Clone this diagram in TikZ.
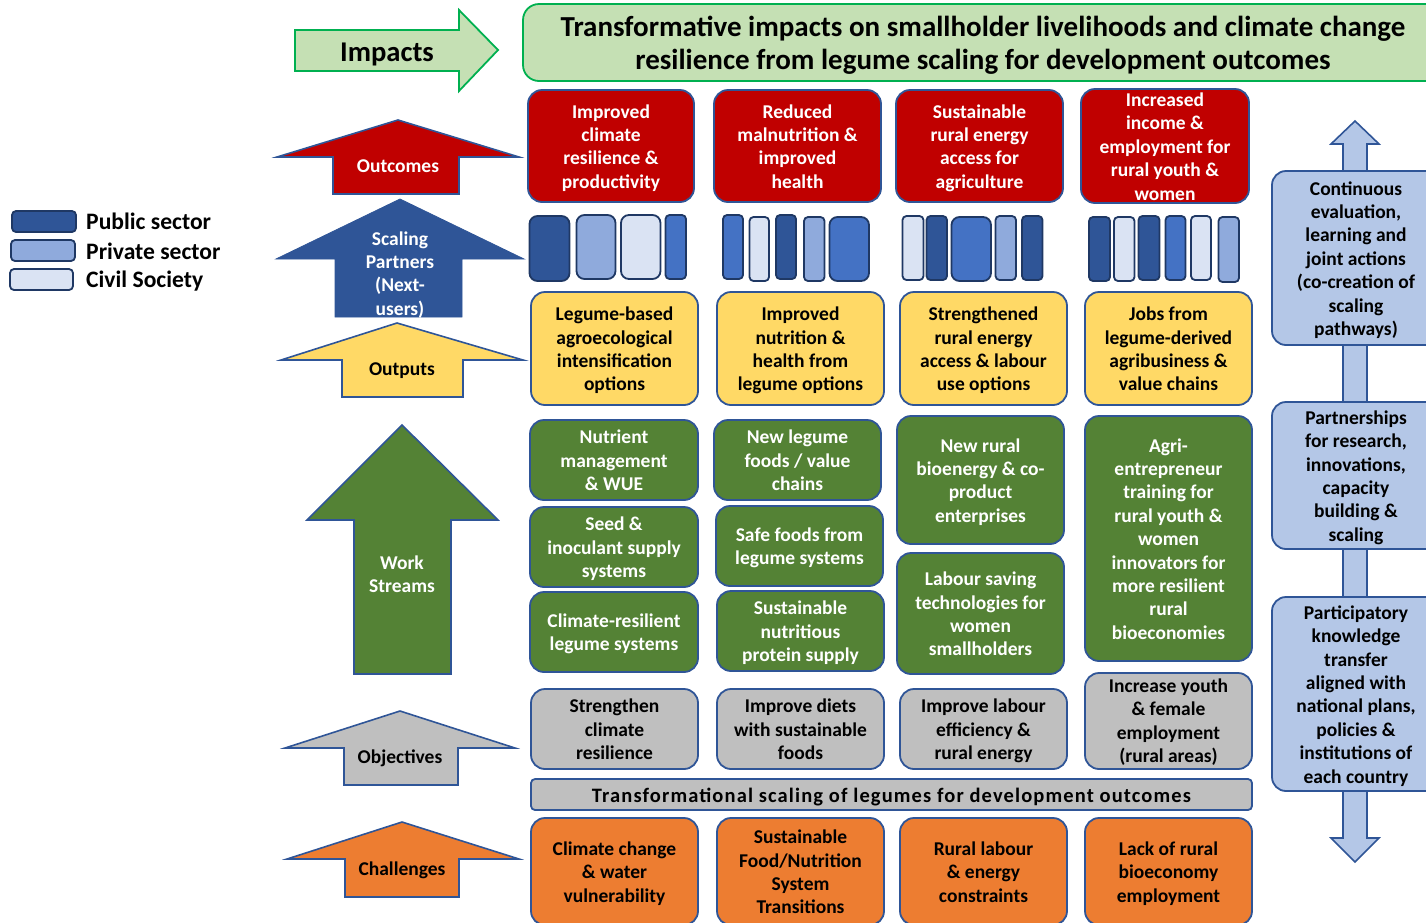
\documentclass[tikz,border=0pt]{standalone}
\usepackage{fontspec}
\setmainfont{Carlito}
\definecolor{cGreenF}{HTML}{C5E0B4}
\definecolor{cGreenS}{HTML}{00B050}
\definecolor{cRed}{HTML}{C00000}
\definecolor{cEdge}{HTML}{2F5597}
\definecolor{cDark}{HTML}{2F5597}
\definecolor{cDarkS}{HTML}{1F3864}
\definecolor{cMid}{HTML}{8FAADC}
\definecolor{cLight}{HTML}{DAE3F3}
\definecolor{cBlue}{HTML}{4472C4}
\definecolor{cYellow}{HTML}{FFD966}
\definecolor{cWork}{HTML}{548235}
\definecolor{cGray}{HTML}{BFBFBF}
\definecolor{cOrange}{HTML}{ED7D31}
\definecolor{cSide}{HTML}{B4C7E7}
\newcommand{\tstr}{\rule{0pt}{1.1em}}
\newcommand{\bx}[7]{\node[#2,minimum width={(#5)-(#3)},minimum height={(#6)-(#4)}] (#1) at ({((#3)+(#5))/2},{((#4)+(#6))/2}) {\tstr #7\strut};}
\newcommand{\bxt}[7]{\node[#2,minimum width={(#5)-(#3)},minimum height={(#6)-(#4)}] (#1) at ({((#3)+(#5))/2},{((#4)+(#6))/2}) {\rule{0pt}{16pt}#7\rule[-1.55pt]{0pt}{1pt}};}
\tikzset{
 x=1pt,y=-1pt,
 bxbase/.style={rectangle,rounded corners=14pt,line width=1.8pt,draw=cEdge,inner sep=0pt,align=center,font=\fontsize{19.5}{23.4}\selectfont\bfseries},
 redbox/.style={bxbase,fill=cRed,text=white},
 yelbox/.style={bxbase,fill=cYellow,text=black},
 grnbox/.style={bxbase,fill=cWork,text=white},
 graybox/.style={bxbase,fill=cGray,text=black},
 orbox/.style={bxbase,fill=cOrange,text=black},
 sidebox/.style={bxbase,fill=cSide,text=black},
 partwide/.style={rectangle,rounded corners=8pt,line width=1.8pt,inner sep=0pt},
 partnar/.style={rectangle,rounded corners=4pt,line width=1.8pt,inner sep=0pt},
 pd/.style={fill=cDark,draw=cDarkS},
 pm/.style={fill=cMid,draw=cDarkS},
 pl/.style={fill=cLight,draw=cDarkS},
 pb/.style={fill=cBlue,draw=cDarkS},
 legtext/.style={anchor=west,inner sep=0pt,font=\fontsize{23.6}{27}\selectfont\bfseries},
 arrowlabel/.style={inner sep=0pt,align=center,font=\fontsize{19.5}{23.4}\selectfont\bfseries},
 arrowpath/.style={line width=1.6pt,draw=cEdge},
}
\begin{document}
\begin{tikzpicture}
\useasboundingbox (0,0) rectangle (1426,922);
\clip (0,0) rectangle (1426,922);
% legend
\bx{legA}{partnar,pd}{12}{211}{76}{232}{}
\bx{legB}{partnar,pm}{11}{240}{75}{261}{}
\bx{legC}{partnar,pl}{10}{269}{73}{290}{}
\node[legtext] (legAt) at (86,224) {\strut Public sector};
\node[legtext] (legBt) at (86,254) {\strut Private sector};
\node[legtext] (legCt) at (86,282) {\strut Civil Society};
% impacts
\draw[line width=1.8pt,draw=cGreenS,fill=cGreenF] (295,30) -- (459,30) -- (459,10) -- (498,50) -- (459,91) -- (459,71) -- (295,71) -- cycle;
\node[inner sep=0pt,font=\fontsize{28.6}{34}\selectfont\bfseries] (impt) at (387,55) {\strut Impacts};
\node[rectangle,rounded corners=16pt,line width=1.8pt,draw=cGreenS,fill=cGreenF,minimum width=920,minimum height=77,inner sep=0pt,align=center,font=\fontsize{29}{33}\selectfont\bfseries] (head) at (983,42.5) {\rule{0pt}{31pt}Transformative impacts on smallholder livelihoods and climate change\\resilience from legume scaling for development outcomes\strut};
% big left arrows
\draw[arrowpath,fill=cRed] (398,120) -- (277,157) -- (333,157) -- (333,194) -- (459,194) -- (459,157) -- (519,157) -- cycle;
\node[arrowlabel,text=white] (outc) at (398,165) {\tstr Outcomes\strut};
\draw[line width=0.8pt,draw=cDark,fill=cDark] (400,199) -- (276,259) -- (335,259) -- (335,317) -- (462,317) -- (462,259) -- (524,259) -- cycle;
\node[arrowlabel,text=white] (scal) at (400,273) {\tstr Scaling\\Partners\\(Next-\\users)\strut};
\draw[arrowpath,fill=cYellow] (397,323) -- (281,360) -- (342,360) -- (342,397) -- (463,397) -- (463,360) -- (523,360) -- cycle;
\node[arrowlabel] (outp) at (402,368) {\tstr Outputs\strut};
\draw[arrowpath,fill=cWork] (402,425) -- (307,520) -- (354,520) -- (354,674) -- (451,674) -- (451,520) -- (498,520) -- cycle;
\node[arrowlabel,text=white] (work) at (402,574) {\tstr Work\\Streams\strut};
\draw[arrowpath,fill=cGray] (400,711) -- (285,748) -- (344,748) -- (344,785) -- (458,785) -- (458,748) -- (515,748) -- cycle;
\node[arrowlabel] (obje) at (400,756) {\tstr Objectives\strut};
\draw[arrowpath,fill=cOrange] (402,822) -- (287,859) -- (345,859) -- (345,897) -- (459,897) -- (459,859) -- (519,859) -- cycle;
\node[arrowlabel] (chal) at (402,868) {\tstr Challenges\strut};
% outcomes row
\bx{r1}{redbox}{528}{90}{694}{202}{Improved\\climate\\resilience \&\\productivity}
\bx{r2}{redbox}{714}{90}{881}{202}{Reduced\\malnutrition \&\\improved\\health}
\bx{r3}{redbox}{896}{90}{1063}{202}{Sustainable\\rural energy\\access for\\agriculture}
\bxt{r4}{redbox}{1081}{89}{1249}{203}{Increased\\income \&\\employment for\\rural youth \&\\women}
% partner bars
\bx{p11}{partwide,pd}{529.5}{216}{569.5}{281}{}
\bx{p12}{partwide,pm}{576.5}{215}{615.5}{279}{}
\bx{p13}{partwide,pl}{621}{215}{660.5}{279}{}
\bx{p14}{partnar,pb}{665.5}{215}{686}{279}{}
\bx{p21}{partnar,pb}{723}{215}{743}{279}{}
\bx{p22}{partnar,pl}{749.5}{217}{769}{281}{}
\bx{p23}{partnar,pd}{776}{215}{796}{279}{}
\bx{p24}{partnar,pm}{804}{217}{824.5}{281}{}
\bx{p25}{partwide,pb}{829.5}{217}{869}{281}{}
\bx{p31}{partnar,pl}{902.5}{216}{923.5}{280}{}
\bx{p32}{partnar,pd}{926.5}{216}{947}{280}{}
\bx{p33}{partwide,pb}{951.5}{217}{991}{281}{}
\bx{p34}{partnar,pm}{995.5}{216}{1016}{280}{}
\bx{p35}{partnar,pd}{1022}{216}{1042.5}{280}{}
\bx{p41}{partnar,pd}{1089}{217}{1110}{281}{}
\bx{p42}{partnar,pl}{1114}{217}{1134.5}{281}{}
\bx{p43}{partnar,pd}{1138.5}{216}{1159.5}{280}{}
\bx{p44}{partnar,pb}{1165.5}{216}{1185.5}{280}{}
\bx{p45}{partnar,pl}{1191}{216}{1211}{280}{}
\bx{p46}{partnar,pm}{1218.5}{217}{1239}{282}{}
% outputs
\bx{y1}{yelbox}{531}{292}{698}{405}{Legume-based\\agroecological\\intensification\\options}
\bx{y2}{yelbox}{717}{292}{884}{405}{Improved\\nutrition \&\\health from\\legume options}
\bx{y3}{yelbox}{900}{292}{1067}{405}{Strengthened\\rural energy\\access \& labour\\use options}
\bx{y4}{yelbox}{1085}{292}{1252}{405}{Jobs from\\legume-derived\\agribusiness \&\\value chains}
% work streams
\bx{g11}{grnbox}{530}{420}{698}{500}{Nutrient\\management\\\& WUE}
\bx{g12}{grnbox}{530}{507}{698}{587}{Seed \&\\inoculant supply\\systems}
\bx{g13}{grnbox}{530}{592}{698}{672}{Climate-resilient\\legume systems}
\bx{g21}{grnbox}{714}{420}{881}{500}{New legume\\foods / value\\chains}
\bx{g22}{grnbox}{716}{506}{883}{586}{Safe foods from\\legume systems}
\bx{g23}{grnbox}{717}{591}{884}{671}{Sustainable\\nutritious\\protein supply}
\bx{g31}{grnbox}{897}{416}{1064}{544}{New rural\\bioenergy \& co-\\product\\enterprises}
\bx{g32}{grnbox}{897}{553}{1064}{674}{Labour saving\\technologies for\\women\\smallholders}
\bx{g41}{grnbox}{1085}{416}{1252}{661}{Agri-\\entrepreneur\\training for\\rural youth \&\\women\\innovators for\\more resilient\\rural\\bioeconomies}
% objectives
\bx{o1}{graybox}{531}{689}{698}{769}{Strengthen\\climate\\resilience}
\bx{o2}{graybox}{717}{689}{884}{769}{Improve diets\\with sustainable\\foods}
\bx{o3}{graybox}{900}{689}{1067}{769}{Improve labour\\efficiency \&\\rural energy}
\bxt{o4}{graybox}{1085}{673}{1252}{769}{Increase youth\\\& female\\employment\\(rural areas)}
\node[rectangle,rounded corners=4pt,line width=1.8pt,draw=cEdge,fill=cGray,minimum width=721,minimum height=31,inner sep=0pt,font=\fontsize{20.5}{24}\selectfont\bfseries\addfontfeature{LetterSpace=5.5}] (bar) at (891.5,794.5) {\tstr Transformational scaling of legumes for development outcomes\strut};
% challenges
\bx{c1}{orbox}{531}{818}{698}{925}{Climate change\\\& water\\vulnerability}
\bx{c2}{orbox}{717}{818}{884}{925}{Sustainable\\Food/Nutrition\\System\\Transitions}
\bx{c3}{orbox}{900}{818}{1067}{925}{Rural labour\\\& energy\\constraints}
\bx{c4}{orbox}{1085}{818}{1252}{925}{Lack of rural\\bioeconomy\\employment}
% right double arrow
\draw[line width=1.6pt,draw=cEdge,fill=cSide] (1355,121) -- (1331,144) -- (1343,144) -- (1343,838) -- (1331,838) -- (1355,862) -- (1379,838) -- (1367,838) -- (1367,144) -- (1379,144) -- cycle;
\bx{s1}{sidebox}{1272}{171}{1440}{345}{Continuous\\evaluation,\\learning and\\joint actions\\(co-creation of\\scaling\\pathways)}
\bx{s2}{sidebox}{1272}{402}{1440}{549}{Partnerships\\for research,\\innovations,\\capacity\\building \&\\scaling}
\bx{s3}{sidebox}{1272}{597}{1440}{791}{Participatory\\knowledge\\transfer\\aligned with\\national plans,\\policies \&\\institutions of\\each country}
\end{tikzpicture}
\end{document}
